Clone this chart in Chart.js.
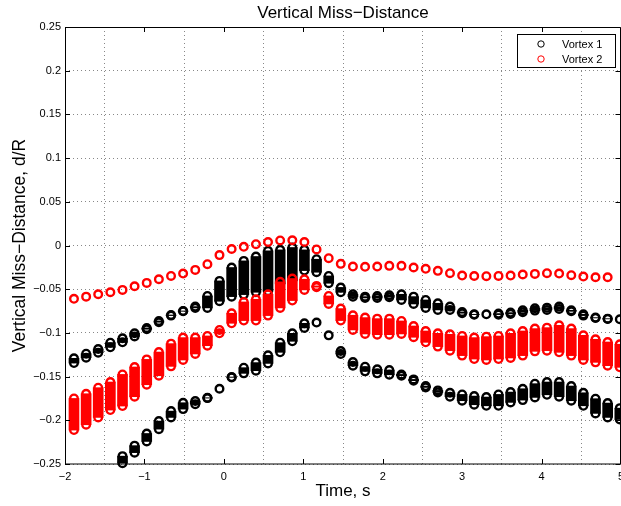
<!DOCTYPE html>
<html>
<head>
<meta charset="utf-8">
<title>Vertical Miss-Distance</title>
<script src="https://cdn.jsdelivr.net/npm/chart.js@4.4.1/dist/chart.umd.min.js"></script>
<style>
    body { margin: 0; background: #fff; }
    canvas { display: block; }
</style>
</head>
<body>
<canvas id="grafico" width="621" height="506"></canvas>
<script>
// Tiempos de muestreo (s)
const tiempo = [-1.887, -1.734, -1.582, -1.429, -1.276, -1.124, -0.971, -0.818, -0.665, -0.513,
    -0.360, -0.207, -0.055, 0.098, 0.251, 0.404, 0.556, 0.709, 0.862, 1.014,
    1.167, 1.320, 1.472, 1.625, 1.778, 1.931, 2.083, 2.236, 2.389, 2.541,
    2.694, 2.847, 3.000, 3.152, 3.305, 3.458, 3.610, 3.763, 3.916, 4.068,
    4.221, 4.374, 4.526, 4.679, 4.832, 4.985];

// Vortex 1, rama superior (maximo y minimo de cada columna)
const v1SupAlto = [-0.1291, -0.1238, -0.1184, -0.1112, -0.1062, -0.1005, -0.0943, -0.0863, -0.0795, -0.0749,
    -0.0699, -0.0577, -0.0405, -0.0252, -0.0176, -0.0126, -0.0061, -0.0050, -0.0023, -0.0050,
    -0.0157, -0.0348, -0.0481, -0.0558, -0.0585, -0.0577, -0.0570, -0.0558, -0.0585, -0.0623,
    -0.0661, -0.0699, -0.0760, -0.0787, -0.0787, -0.0779, -0.0768, -0.0741, -0.0718, -0.0711,
    -0.0699, -0.0741, -0.0787, -0.0825, -0.0837, -0.0844];
const v1SupBajo = [-0.1345, -0.1284, -0.1226, -0.1165, -0.1108, -0.1040, -0.0958, -0.0878, -0.0802, -0.0753,
    -0.0714, -0.0714, -0.0638, -0.0585, -0.0562, -0.0535, -0.0523, -0.0439, -0.0401, -0.0287,
    -0.0306, -0.0432, -0.0535, -0.0585, -0.0600, -0.0600, -0.0592, -0.0623, -0.0669, -0.0714,
    -0.0737, -0.0737, -0.0775, -0.0791, -0.0787, -0.0791, -0.0783, -0.0764, -0.0745, -0.0737,
    -0.0726, -0.0753, -0.0802, -0.0829, -0.0840, -0.0844];

// Vortex 1, rama inferior
const v1InfAlto = [null, null, null, null, -0.2410, -0.2290, -0.2151, -0.2009, -0.1895, -0.1799,
    -0.1780, -0.1742, -0.1639, -0.1505, -0.1398, -0.1340, -0.1257, -0.1112, -0.1005, -0.0890,
    -0.0882, -0.1028, -0.1207, -0.1333, -0.1387, -0.1417, -0.1425, -0.1475, -0.1532, -0.1608,
    -0.1658, -0.1685, -0.1704, -0.1723, -0.1734, -0.1704, -0.1677, -0.1639, -0.1581, -0.1562,
    -0.1562, -0.1608, -0.1685, -0.1753, -0.1803, -0.1861];
const v1InfBajo = [null, null, null, null, -0.2490, -0.2370, -0.2242, -0.2101, -0.1967, -0.1872,
    -0.1815, -0.1746, -0.1639, -0.1509, -0.1463, -0.1432, -0.1349, -0.1222, -0.1096, -0.0943,
    -0.0882, -0.1028, -0.1241, -0.1375, -0.1440, -0.1463, -0.1479, -0.1490, -0.1547, -0.1624,
    -0.1681, -0.1730, -0.1776, -0.1822, -0.1834, -0.1834, -0.1795, -0.1769, -0.1738, -0.1708,
    -0.1730, -0.1776, -0.1834, -0.1921, -0.1967, -0.1991];

// Vortex 2, rama superior (un solo punto por tiempo)
const v2Sup = [-0.0610, -0.0585, -0.0558, -0.0535, -0.0508, -0.0466, -0.0428, -0.0386, -0.0348, -0.0321,
    -0.0279, -0.0214, -0.0110, -0.0040, -0.0015, 0.0015, 0.0040, 0.0058, 0.0060, 0.0040,
    -0.0045, -0.0145, -0.0210, -0.0241, -0.0244, -0.0241, -0.0233, -0.0233, -0.0252, -0.0267,
    -0.0290, -0.0317, -0.0344, -0.0349, -0.0351, -0.0348, -0.0344, -0.0332, -0.0325, -0.0317,
    -0.0321, -0.0340, -0.0355, -0.0363, -0.0363, null];

// Vortex 2, rama inferior
const v2InfAlto = [-0.1750, -0.1696, -0.1627, -0.1562, -0.1475, -0.1390, -0.1303, -0.1219, -0.1123, -0.1054,
    -0.1054, -0.1035, -0.0966, -0.0775, -0.0646, -0.0615, -0.0558, -0.0416, -0.0378, -0.0386,
    -0.0462, -0.0577, -0.0722, -0.0798, -0.0825, -0.0837, -0.0837, -0.0863, -0.0921, -0.0978,
    -0.1005, -0.1016, -0.1035, -0.1054, -0.1043, -0.1035, -0.1005, -0.0978, -0.0951, -0.0940,
    -0.0913, -0.0951, -0.1028, -0.1073, -0.1104, -0.1130];
const v2InfBajo = [-0.2112, -0.2051, -0.1967, -0.1883, -0.1837, -0.1730, -0.1593, -0.1490, -0.1383, -0.1310,
    -0.1241, -0.1146, -0.1005, -0.0890, -0.0859, -0.0859, -0.0802, -0.0714, -0.0630, -0.0508,
    -0.0477, -0.0669, -0.0859, -0.0966, -0.1012, -0.1020, -0.1020, -0.1012, -0.1050, -0.1108,
    -0.1157, -0.1203, -0.1260, -0.1299, -0.1310, -0.1299, -0.1287, -0.1260, -0.1211, -0.1203,
    -0.1222, -0.1260, -0.1310, -0.1337, -0.1375, -0.1394];

// Marcas de los ejes
const marcasX = [-2, -1, 0, 1, 2, 3, 4, 5];
const marcasY = [-0.25, -0.2, -0.15, -0.1, -0.05, 0, 0.05, 0.1, 0.15, 0.2, 0.25];

const NEGRO = '#000000';
const ROJO = '#ff0000';
const FUENTE = '"Liberation Sans", Arial, Helvetica, sans-serif';

Chart.defaults.font.family = FUENTE;
Chart.defaults.color = '#000';

// Circulos en los extremos de cada columna
function anillos(alto, bajo) {
    const puntos = [];
    for (let i = 0; i < tiempo.length; i++) {
        if (alto[i] === null) continue;
        puntos.push({ x: tiempo[i], y: alto[i] });
        if (bajo[i] !== alto[i]) puntos.push({ x: tiempo[i], y: bajo[i] });
    }
    return puntos;
}

// Relleno entre el punto mas alto y el mas bajo de cada columna
function columnas(alto, bajo) {
    const barras = [];
    for (let i = 0; i < tiempo.length; i++) {
        if (alto[i] === null || bajo[i] === alto[i]) continue;
        barras.push({ x: tiempo[i], y: [bajo[i], alto[i]] });
    }
    return barras;
}

function serieAnillos(etiqueta, datos, color, orden) {
    return {
        type: 'scatter',
        label: etiqueta,
        data: datos,
        borderColor: color,
        backgroundColor: 'rgba(0,0,0,0)',
        pointRadius: 3.8,
        pointHoverRadius: 3.8,
        pointBorderWidth: 2.4,
        order: orden,
        clip: 8
    };
}

function serieColumnas(datos, color, orden) {
    return {
        type: 'bar',
        data: datos,
        backgroundColor: color,
        borderWidth: 0,
        barThickness: 10,
        grouped: false,
        order: orden,
        clip: 8
    };
}

function formato(v) {
    const txt = String(Number(v.toFixed(2)));
    return txt.replace('-', '\u2212');
}

// Caja, marcas interiores, titulo y leyenda al estilo MATLAB
const marco = {
    id: 'marco',
    afterDraw(chart) {
        const ctx = chart.ctx;
        const a = chart.chartArea;
        const sx = chart.scales.x;
        const sy = chart.scales.y;
        const der = a.right - 0.5;
        ctx.save();
        ctx.strokeStyle = '#000';
        ctx.lineWidth = 1;
        ctx.setLineDash([]);
        ctx.beginPath();
        ctx.rect(a.left + 0.5, a.top + 0.5, der - a.left - 0.5, a.bottom - a.top - 0.5);
        marcasX.forEach(v => {
            const px = Math.round(sx.getPixelForValue(v)) + 0.5;
            ctx.moveTo(px, a.bottom); ctx.lineTo(px, a.bottom - 5);
            ctx.moveTo(px, a.top); ctx.lineTo(px, a.top + 5);
        });
        marcasY.forEach(v => {
            const py = Math.round(sy.getPixelForValue(v)) + 0.5;
            ctx.moveTo(a.left, py); ctx.lineTo(a.left + 5, py);
            ctx.moveTo(der, py); ctx.lineTo(der - 5, py);
        });
        ctx.stroke();

        // Titulo centrado sobre el area del grafico
        ctx.fillStyle = '#000';
        ctx.font = '17px ' + FUENTE;
        ctx.textAlign = 'center';
        ctx.textBaseline = 'alphabetic';
        ctx.fillText('Vertical Miss\u2212Distance', (a.left + a.right) / 2, 17.5);

        // Leyenda
        const lx = a.right - 104, ly = a.top + 7, lw = 99, lh = 34;
        ctx.fillStyle = '#fff';
        ctx.fillRect(lx, ly, lw, lh);
        ctx.strokeRect(lx + 0.5, ly + 0.5, lw - 1, lh - 1);
        const entradas = [['Vortex 1', NEGRO], ['Vortex 2', ROJO]];
        ctx.font = '11px ' + FUENTE;
        ctx.textAlign = 'left';
        ctx.textBaseline = 'middle';
        entradas.forEach((e, k) => {
            const cy = ly + 10 + k * 15;
            ctx.strokeStyle = e[1];
            ctx.lineWidth = 1;
            ctx.beginPath();
            ctx.arc(lx + 24, cy, 3.2, 0, Math.PI * 2);
            ctx.stroke();
            ctx.fillStyle = '#000';
            ctx.fillText(e[0], lx + 45, cy + 0.5);
        });
        ctx.restore();
    }
};

new Chart(document.getElementById('grafico'), {
    type: 'scatter',
    data: {
        datasets: [
            serieAnillos('Vortex 2', anillos(v2Sup, v2Sup), ROJO, 1),
            serieAnillos('Vortex 2', anillos(v2InfAlto, v2InfBajo), ROJO, 1),
            serieColumnas(columnas(v2InfAlto, v2InfBajo), ROJO, 1),
            serieAnillos('Vortex 1', anillos(v1SupAlto, v1SupBajo), NEGRO, 2),
            serieColumnas(columnas(v1SupAlto, v1SupBajo), NEGRO, 2),
            serieAnillos('Vortex 1', anillos(v1InfAlto, v1InfBajo), NEGRO, 2),
            serieColumnas(columnas(v1InfAlto, v1InfBajo), NEGRO, 2)
        ]
    },
    options: {
        responsive: false,
        animation: false,
        events: [],
        layout: { autoPadding: false, padding: { top: 27, right: 0, bottom: 0, left: 0 } },
        plugins: {
            legend: { display: false },
            tooltip: { enabled: false },
            title: { display: false }
        },
        scales: {
            x: {
                type: 'linear',
                min: -2,
                max: 5,
                offset: false,
                afterBuildTicks: s => { s.ticks = marcasX.map(v => ({ value: v })); },
                afterFit: s => { s.height = 42; s.paddingLeft = 0; s.paddingRight = 0; },
                grid: { color: '#888', drawTicks: false, lineWidth: 1 },
                border: { display: false, dash: [1, 3] },
                ticks: { autoSkip: false, padding: 6, maxRotation: 0, font: { size: 11 }, callback: v => formato(v) },
                title: { display: true, text: 'Time, s', font: { size: 17 }, padding: { top: 0, bottom: 4 } }
            },
            y: {
                type: 'linear',
                min: -0.25,
                max: 0.25,
                afterBuildTicks: s => { s.ticks = marcasY.map(v => ({ value: v })); },
                afterFit: s => { s.width = 65; s.paddingTop = 0; s.paddingBottom = 0; },
                grid: { color: '#888', drawTicks: false, lineWidth: 1 },
                border: { display: false, dash: [1, 3] },
                ticks: { autoSkip: false, padding: 4, font: { size: 11 }, callback: v => formato(v) },
                title: { display: true, text: 'Vertical Miss\u2212Distance, d/R', font: { size: 17.5 }, padding: { top: 10, bottom: 0 } }
            }
        }
    },
    plugins: [marco]
});
</script>
</body>
</html>
